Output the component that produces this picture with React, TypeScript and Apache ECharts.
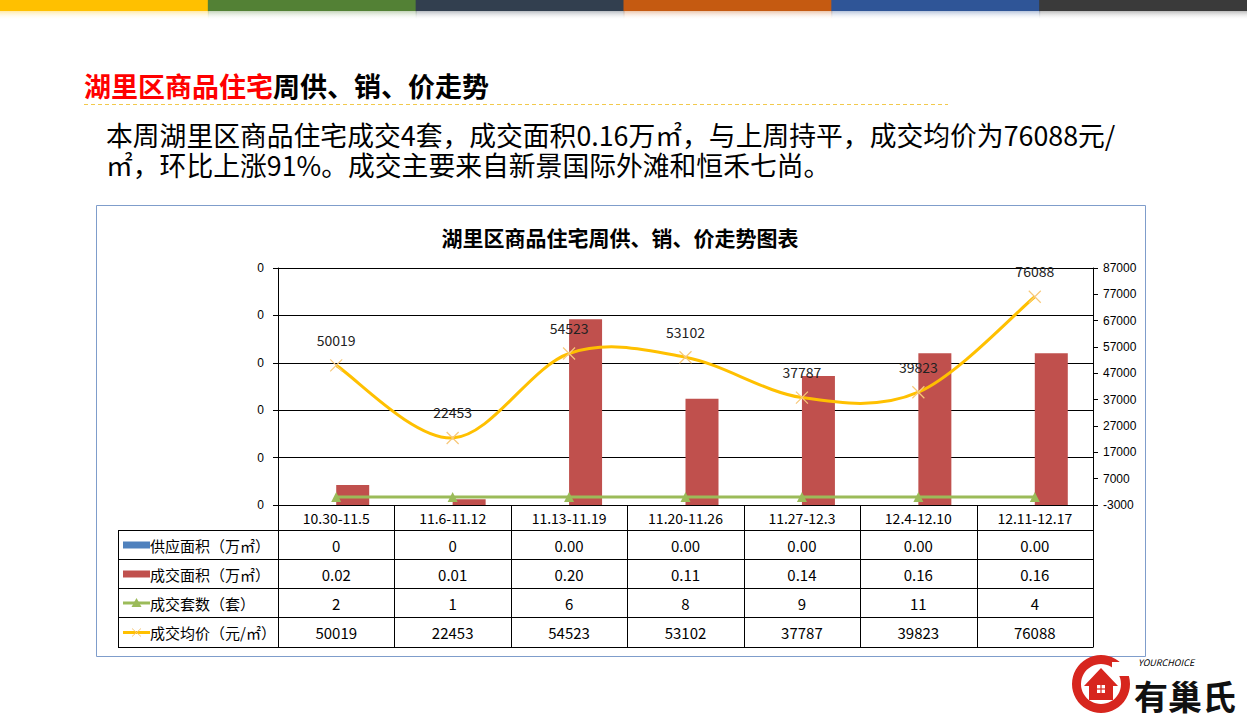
import React, { useEffect, useRef } from "react";
import * as echarts from "echarts";

const categories = ["10.30-11.5", "11.6-11.12", "11.13-11.19", "11.20-11.26", "11.27-12.3", "12.4-12.10", "12.11-12.17"];
const supplyArea = [0, 0, 0, 0, 0, 0, 0];
const supplyLabels = ["0", "0", "0.00", "0.00", "0.00", "0.00", "0.00"];
const dealArea = [0.021, 0.006, 0.196, 0.112, 0.136, 0.16, 0.16];
const dealUnits = [2, 1, 6, 8, 9, 11, 4];
const avgPrice = [50019, 22453, 54523, 53102, 37787, 39823, 76088];
const rowNames = ["供应面积（万㎡）", "成交面积（万㎡）", "成交套数（套）", "成交均价（元/㎡）"];
const leftAxis = { min: 0, max: 0.25, step: 0.05 };
const rightAxis = { min: -3000, max: 87000, step: 10000 };
const topBarColors = ["#FFC000", "#538135", "#323F4F", "#C55A11", "#2F5597", "#3A3A3A"];
const headingRed = "湖里区商品住宅";
const headingBlack = "周供、销、价走势";
const paragraph = [
  "本周湖里区商品住宅成交4套，成交面积0.16万㎡，与上周持平，成交均价为76088元/",
  "㎡，环比上涨91%。成交主要来自新景国际外滩和恒禾七尚。",
];
const chartTitle = "湖里区商品住宅周供、销、价走势图表";

const CJK = '"Noto Sans CJK SC", "Noto Sans", sans-serif';

export default function App() {
  const ref = useRef<HTMLDivElement>(null);
  useEffect(() => {
    if (!ref.current) return;
    const chart = echarts.init(ref.current, undefined, { renderer: "svg" });

    const G = { left: 278, top: 268, width: 815, height: 237 };
    const cw = G.width / categories.length;
    const rowsY = [505, 530, 559, 588, 617, 647];
    const tableLeft = 118;

    const graphic: any[] = [];
    // top colour bars
    const W = 1247 / topBarColors.length;
    topBarColors.forEach((c, i) => {
      graphic.push({ type: "rect", silent: true, shape: { x: i * W, y: 0, width: W + 1, height: 11 }, style: { fill: c } });
      graphic.push({
        type: "rect", silent: true, shape: { x: i * W, y: 11, width: W + 1, height: 9 },
        style: {
          fill: new echarts.graphic.LinearGradient(0, 0, 0, 1, [
            { offset: 0, color: c },
            { offset: 1, color: "rgba(255,255,255,0)" },
          ]),
          opacity: 0.35,
        },
      });
    });
    // heading
    graphic.push({
      type: "text", x: 84, y: 85,
      style: {
        text: `{r|${headingRed}}{b|${headingBlack}}`,
        verticalAlign: "middle",
        rich: {
          r: { fill: "#FF0000", font: `bold 27px ${CJK}` },
          b: { fill: "#000000", font: `bold 27px ${CJK}` },
        },
      },
    });
    graphic.push({ type: "line", shape: { x1: 84, y1: 104.5, x2: 948, y2: 104.5 }, style: { stroke: "#F2C94C", lineWidth: 1, lineDash: [4, 3] } });
    graphic.push({
      type: "text", x: 106, y: 119,
      style: { text: paragraph.join("\n"), fill: "#000", font: `26.8px ${CJK}`, verticalAlign: "top", lineHeight: 30 },
    });
    // chart box
    graphic.push({ type: "rect", shape: { x: 96.5, y: 205.5, width: 1049, height: 451 }, style: { fill: "none", stroke: "#7F9DCB", lineWidth: 1 }, z: 0 });
    graphic.push({ type: "text", x: 620, y: 237, style: { text: chartTitle, fill: "#000", font: `bold 21px ${CJK}`, align: "center", verticalAlign: "middle" } });

    // table lines
    for (let r = 1; r < rowsY.length; r++) {
      graphic.push({ type: "line", shape: { x1: tableLeft, y1: rowsY[r] + 0.5, x2: G.left + G.width, y2: rowsY[r] + 0.5 }, style: { stroke: "#000", lineWidth: 1 } });
    }
    graphic.push({ type: "line", shape: { x1: tableLeft + 0.5, y1: rowsY[1], x2: tableLeft + 0.5, y2: rowsY[5] + 0.5 }, style: { stroke: "#000", lineWidth: 1 } });
    for (let i = 0; i <= categories.length; i++) {
      const x = Math.round(G.left + i * cw) + 0.5;
      graphic.push({ type: "line", shape: { x1: x, y1: rowsY[0], x2: x, y2: rowsY[5] + 0.5 }, style: { stroke: "#000", lineWidth: 1 } });
    }
    const rowValues = [
      supplyLabels,
      dealArea.map((v) => v.toFixed(2)),
      dealUnits.map((v) => String(v)),
      avgPrice.map((v) => String(v)),
    ];
    rowValues.forEach((vals, r) => {
      const cy = (rowsY[r + 1] + rowsY[r + 2]) / 2 + 0.5;
      vals.forEach((v, i) => {
        graphic.push({ type: "text", x: G.left + (i + 0.5) * cw, y: cy, style: { text: v, fill: "#000", font: `15px ${CJK}`, align: "center", verticalAlign: "middle" } });
      });
      graphic.push({ type: "text", x: 150, y: cy, style: { text: rowNames[r], fill: "#000", font: `15px ${CJK}`, verticalAlign: "middle" } });
      // legend keys
      if (r === 0 || r === 1) {
        graphic.push({ type: "rect", shape: { x: 123, y: cy - 3.5, width: 27, height: 7 }, style: { fill: r === 0 ? "#4F81BD" : "#C0504D" } });
      } else if (r === 2) {
        graphic.push({ type: "line", shape: { x1: 123, y1: cy, x2: 150, y2: cy }, style: { stroke: "#9BBB59", lineWidth: 3 } });
        graphic.push({ type: "polygon", shape: { points: [[136.5, cy - 5], [131.5, cy + 4], [141.5, cy + 4]] }, style: { fill: "#9BBB59" } });
      } else {
        graphic.push({ type: "line", shape: { x1: 123, y1: cy, x2: 150, y2: cy }, style: { stroke: "#FFC000", lineWidth: 3 } });
        graphic.push({ type: "line", shape: { x1: 132, y1: cy - 4, x2: 141, y2: cy + 4 }, style: { stroke: "#F7C87A", lineWidth: 1 } });
        graphic.push({ type: "line", shape: { x1: 132, y1: cy + 4, x2: 141, y2: cy - 4 }, style: { stroke: "#F7C87A", lineWidth: 1 } });
      }
    });

    // logo
    graphic.push({ type: "ring", shape: { cx: 1101, cy: 684, r: 29, r0: 20 }, style: { fill: "#D7261E" } });
    graphic.push({ type: "rect", shape: { x: 1112, y: 662, width: 22, height: 14 }, style: { fill: "#fff" } });
    graphic.push({ type: "polygon", shape: { points: [[1084, 686], [1101, 668], [1118, 686], [1113, 686], [1113, 700], [1089, 700], [1089, 686]] }, style: { fill: "#D7261E" } });
    graphic.push({ type: "rect", shape: { x: 1097, y: 685, width: 8, height: 8 }, style: { fill: "#fff" } });
    graphic.push({ type: "line", shape: { x1: 1101, y1: 685, x2: 1101, y2: 693 }, style: { stroke: "#D7261E", lineWidth: 1.2 } });
    graphic.push({ type: "line", shape: { x1: 1097, y1: 689, x2: 1105, y2: 689 }, style: { stroke: "#D7261E", lineWidth: 1.2 } });
    graphic.push({ type: "text", x: 1138, y: 662, style: { text: "YOURCHOICE", fill: "#000", font: `italic 9px ${CJK}`, verticalAlign: "middle" } });
    graphic.push({ type: "text", x: 1134, y: 695, style: { text: "有巢氏", fill: "#111", font: `bold 34px ${CJK}`, verticalAlign: "middle" } });

    const xSymbol = "path://M0,0L10,10M10,0L0,10";

    // Excel-style smoothed curve, built through the chart's own scales
    const renderCurve = (params: any, api: any) => {
      if (params.dataIndex !== 0) return null;
      const pts = avgPrice.map((v, i) => api.coord([i, v - rightAxis.min]));
      const k = 1 / 6;
      let d = `M${pts[0][0]},${pts[0][1]}`;
      for (let i = 0; i < pts.length - 1; i++) {
        const p0 = pts[Math.max(0, i - 1)];
        const p1 = pts[i];
        const p2 = pts[i + 1];
        const p3 = pts[Math.min(pts.length - 1, i + 2)];
        const c1 = [p1[0] + (p2[0] - p0[0]) * k, p1[1] + (p2[1] - p0[1]) * k];
        const c2 = [p2[0] - (p3[0] - p1[0]) * k, p2[1] - (p3[1] - p1[1]) * k];
        d += ` C${c1[0]},${c1[1]} ${c2[0]},${c2[1]} ${p2[0]},${p2[1]}`;
      }
      return {
        type: "path",
        shape: { pathData: d },
        style: { fill: "none", stroke: "#FFC000", lineWidth: 3 },
      };
    };

    chart.setOption({
      animation: false,
      backgroundColor: "#fff",
      grid: { left: G.left, top: G.top, width: G.width, height: G.height, containLabel: false },
      xAxis: {
        type: "category",
        data: categories,
        axisLine: { lineStyle: { color: "#000", width: 1 } },
        axisTick: { show: false },
        axisLabel: { interval: 0, margin: 6, fontSize: 14, color: "#000", fontFamily: CJK },
      },
      yAxis: [
        {
          type: "value",
          min: leftAxis.min,
          max: leftAxis.max,
          interval: leftAxis.step,
          axisLine: { show: true, lineStyle: { color: "#000" } },
          axisTick: { show: true, length: 5, lineStyle: { color: "#000" } },
          axisLabel: { formatter: () => "0", fontSize: 12, color: "#000", margin: 14, fontFamily: "Liberation Sans" },
          splitLine: { show: true, lineStyle: { color: "#000", width: 1 } },
        },
        {
          type: "value",
          position: "right",
          min: 0,
          max: rightAxis.max - rightAxis.min,
          interval: rightAxis.step,
          axisLine: { show: true, lineStyle: { color: "#000" } },
          axisTick: { show: true, length: 5, lineStyle: { color: "#000" } },
          axisLabel: { formatter: (v: number) => String(v + rightAxis.min), fontSize: 12, color: "#000", margin: 10, fontFamily: "Liberation Sans" },
          splitLine: { show: false },
        },
      ],
      series: [
        {
          name: "供应面积（万㎡）",
          type: "bar",
          yAxisIndex: 0,
          data: supplyArea,
          barWidth: 33,
          barGap: "0%",
          itemStyle: { color: "#4F81BD" },
        },
        {
          name: "成交面积（万㎡）",
          type: "bar",
          yAxisIndex: 0,
          data: dealArea,
          barWidth: 33,
          barGap: "0%",
          itemStyle: { color: "#C0504D" },
        },
        {
          name: "成交套数（套）",
          type: "line",
          yAxisIndex: 1,
          data: dealUnits.map((v) => v - rightAxis.min),
          symbol: "triangle",
          symbolSize: 10,
          lineStyle: { color: "#9BBB59", width: 3 },
          itemStyle: { color: "#9BBB59" },
          z: 3,
        },
        {
          name: "成交均价曲线",
          type: "custom",
          yAxisIndex: 1,
          data: avgPrice.map((v, i) => [i, v - rightAxis.min]),
          renderItem: renderCurve,
          z: 4,
          silent: true,
        },
        {
          name: "成交均价（元/㎡）",
          type: "line",
          yAxisIndex: 1,
          data: avgPrice.map((v) => v - rightAxis.min),
          symbol: xSymbol,
          symbolSize: 12,
          lineStyle: { width: 0, opacity: 0 },
          itemStyle: { color: "none", borderColor: "#F7C87A", borderWidth: 1.2 },
          label: {
            show: true,
            position: "top",
            distance: 10,
            fontSize: 14,
            color: "#222",
            fontFamily: CJK,
            formatter: (p: any) => String(avgPrice[p.dataIndex]),
          },
          z: 5,
        },
      ],
      graphic,
    });
    return () => chart.dispose();
  }, []);
  return <div ref={ref} style={{ position: "fixed", left: 0, top: 0, width: 1247, height: 718, background: "#fff" }} />;
}
